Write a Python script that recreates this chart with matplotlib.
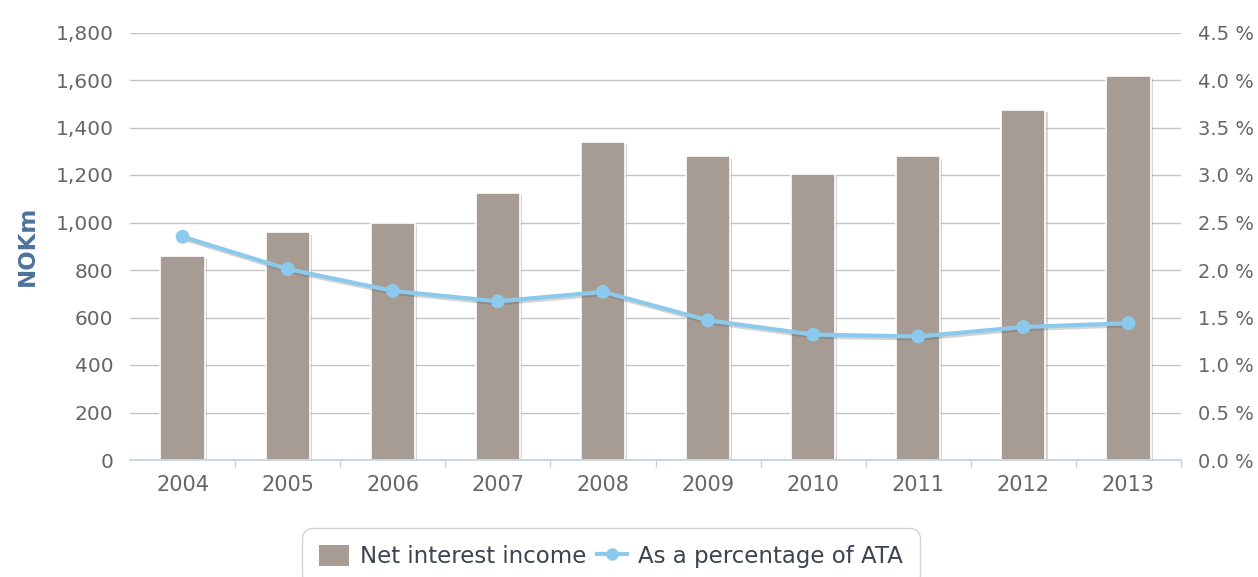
import numpy as np
import matplotlib
matplotlib.use("Agg")
import matplotlib.pyplot as plt
from matplotlib import patheffects as pe
from matplotlib.ticker import FuncFormatter, MultipleLocator, FixedLocator
from matplotlib.lines import Line2D
from matplotlib.patches import Patch

# Data
years = ["2004", "2005", "2006", "2007", "2008", "2009", "2010", "2011", "2012", "2013"]
net_interest_income = [857, 958, 1000, 1125, 1338, 1278, 1203, 1278, 1474, 1618]  # NOKm
pct_of_ata = [2.35, 2.01, 1.78, 1.67, 1.77, 1.47, 1.32, 1.30, 1.40, 1.44]  # %

bar_color = "#a69c93"
line_color = "#8ccaed"
grid_color = "#c4c4c4"
axis_color = "#c0d0e0"
label_color = "#666666"

plt.rcParams["font.family"] = ["DejaVu Sans"]

fig = plt.figure(figsize=(12.58, 5.77), dpi=100)
ax = fig.add_axes([130 / 1258, 1 - 460 / 577, (1181 - 130) / 1258, (460 - 32.5) / 577])
ax2 = ax.twinx()

x = np.arange(len(years))

bars = ax.bar(x, net_interest_income, width=0.42, color=bar_color,
              edgecolor="white", linewidth=1.2, zorder=3)
for b in bars:
    b.set_path_effects([pe.SimplePatchShadow(offset=(1.5, -1.5), shadow_rgbFace="#888888", alpha=0.35),
                        pe.Normal()])

ax.set_xlim(-0.5, len(years) - 0.5)
ax.set_ylim(0, 1800)
ax.yaxis.set_major_locator(MultipleLocator(200))
ax.yaxis.set_major_formatter(FuncFormatter(lambda v, p: f"{int(v):,}"))
ax.grid(axis="y", color=grid_color, linewidth=1.0)
ax.set_axisbelow(True)

for s in ["top", "left", "right"]:
    ax.spines[s].set_visible(False)
ax.spines["bottom"].set_color(axis_color)
ax.spines["bottom"].set_linewidth(1.2)
ax.spines["bottom"].set_zorder(4)

ax.set_xticks(x)
ax.set_xticklabels(years)
ax.xaxis.set_minor_locator(FixedLocator(np.arange(0.5, len(years), 1.0)))
ax.tick_params(axis="x", which="major", length=0, pad=11, labelsize=15, labelcolor=label_color)
ax.tick_params(axis="x", which="minor", length=5, width=1.0, color=axis_color, direction="out")
ax.tick_params(axis="y", length=0, pad=12, labelsize=14.5, labelcolor=label_color)

ax.set_ylabel("NOKm", fontsize=16.5, fontweight="bold", color="#4f7299", labelpad=12)

# Percentage line on the secondary axis
ax2.set_ylim(0, 4.5)
ax2.yaxis.set_major_locator(MultipleLocator(0.5))
ax2.yaxis.set_major_formatter(FuncFormatter(lambda v, p: f"{v:.1f} %"))
ax2.tick_params(axis="y", length=0, pad=12, labelsize=14, labelcolor=label_color)
for s in ax2.spines.values():
    s.set_visible(False)

ax2.plot(x, pct_of_ata, color=line_color, linewidth=3.0, marker="o", markersize=10,
         markeredgewidth=0, zorder=5, solid_capstyle="round",
         path_effects=[pe.SimpleLineShadow(offset=(1, -1.5), shadow_color="#555555", alpha=0.25),
                       pe.Normal()])

# Legend
handles = [
    Patch(facecolor=bar_color, edgecolor="none"),
    Line2D([0], [0], color=line_color, linewidth=3.0, marker="o", markersize=9, markeredgewidth=0),
]
leg = fig.legend(handles, ["Net interest income", "As a percentage of ATA"],
                 loc="upper left", bbox_to_anchor=(302 / 1258, 1 - 528 / 577), borderaxespad=0,
                 ncol=2, fontsize=16.5, frameon=True, fancybox=True,
                 handlelength=1.3, handleheight=1.0,
                 handletextpad=0.5, columnspacing=0.45, borderpad=0.75, labelcolor="#3d4450")
frame = leg.get_frame()
frame.set_edgecolor("#c8c8c8")
frame.set_linewidth(1.0)
frame.set_boxstyle("round,pad=0,rounding_size=0.5")

fig.savefig("out.png", dpi=100)
